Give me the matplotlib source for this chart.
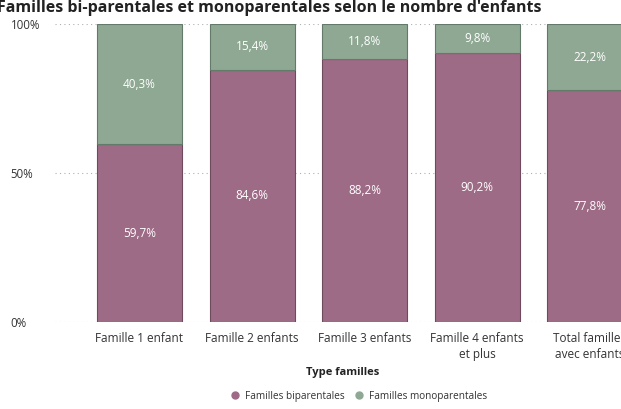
import numpy as np
import matplotlib.pyplot as plt
from matplotlib.lines import Line2D

plt.rcParams['font.family'] = ['Open Sans', 'DejaVu Sans']

# data
categories = ['Famille 1 enfant', 'Famille 2 enfants', 'Famille 3 enfants',
              'Famille 4 enfants\net plus', 'Total familles\navec enfants']
biparentales = [59.7, 84.6, 88.2, 90.2, 77.8]
monoparentales = [40.3, 15.4, 11.8, 9.8, 22.2]
series_names = ['Familles biparentales', 'Familles monoparentales']
col_bi = '#9e6b86'
col_mono = '#8fa893'

fig = plt.figure(figsize=(6.21, 4.09), dpi=100)
# axes runs past the right edge, the last bar is cut like in the source
ax = fig.add_axes([55 / 621, 87 / 409, 566 / 621, 298 / 409])

x = np.arange(len(categories))
w = 0.755
ax.bar(x, biparentales, w, color=col_bi, edgecolor='#6e4a5c', linewidth=0.8, zorder=2)
ax.bar(x, monoparentales, w, bottom=biparentales, color=col_mono,
       edgecolor='#63796a', linewidth=0.8, zorder=2)

def fmt(v):
    return ('%.1f%%' % v).replace('.', ',')

for i in range(len(x)):
    ax.text(x[i], biparentales[i] / 2, fmt(biparentales[i]), color='white',
            ha='center', va='center', fontsize=8.5, zorder=3)
    ax.text(x[i], biparentales[i] + monoparentales[i] / 2, fmt(monoparentales[i]),
            color='white', ha='center', va='center', fontsize=8.5, zorder=3)

ax.set_xlim(-0.75, -0.75 + 566 / 112.6)
ax.set_ylim(0, 100)
ax.set_yticks([0, 50, 100])
ax.set_yticklabels(['0%', '50%', '100%'])
for lab in ax.get_yticklabels():
    lab.set_ha('left')
ax.tick_params(axis='y', length=0, pad=32, labelsize=8.3, labelcolor='#333333')
ax.yaxis.grid(True, linestyle=(0, (1, 3)), color='#b0b0b0', linewidth=0.8, zorder=0)
ax.set_xticks(x)
ax.set_xticklabels(categories, fontsize=8.5, color='#333333', linespacing=1.35)
ax.tick_params(axis='x', length=0, pad=7)
for s in ax.spines.values():
    s.set_visible(False)

fig.text(343 / 621, 1 - 373 / 409, 'Type familles', ha='center', va='center',
         fontsize=8, fontweight='bold', color='#222222')

handles = [Line2D([], [], marker='o', linestyle='', color=col_bi, markersize=5),
           Line2D([], [], marker='o', linestyle='', color=col_mono, markersize=5)]
fig.legend(handles, series_names, loc='center', bbox_to_anchor=(356 / 621, 1 - 396 / 409),
           ncol=2, frameon=False, fontsize=7.2, handletextpad=0.0, columnspacing=0.4,
           labelcolor='#333333')

fig.text(-0.005, 1.0, "Familles bi-parentales et monoparentales selon le nombre d'enfants",
         ha='left', va='top', fontsize=11.5, fontweight='bold', color='#222222')

fig.savefig('out.png', dpi=100)
